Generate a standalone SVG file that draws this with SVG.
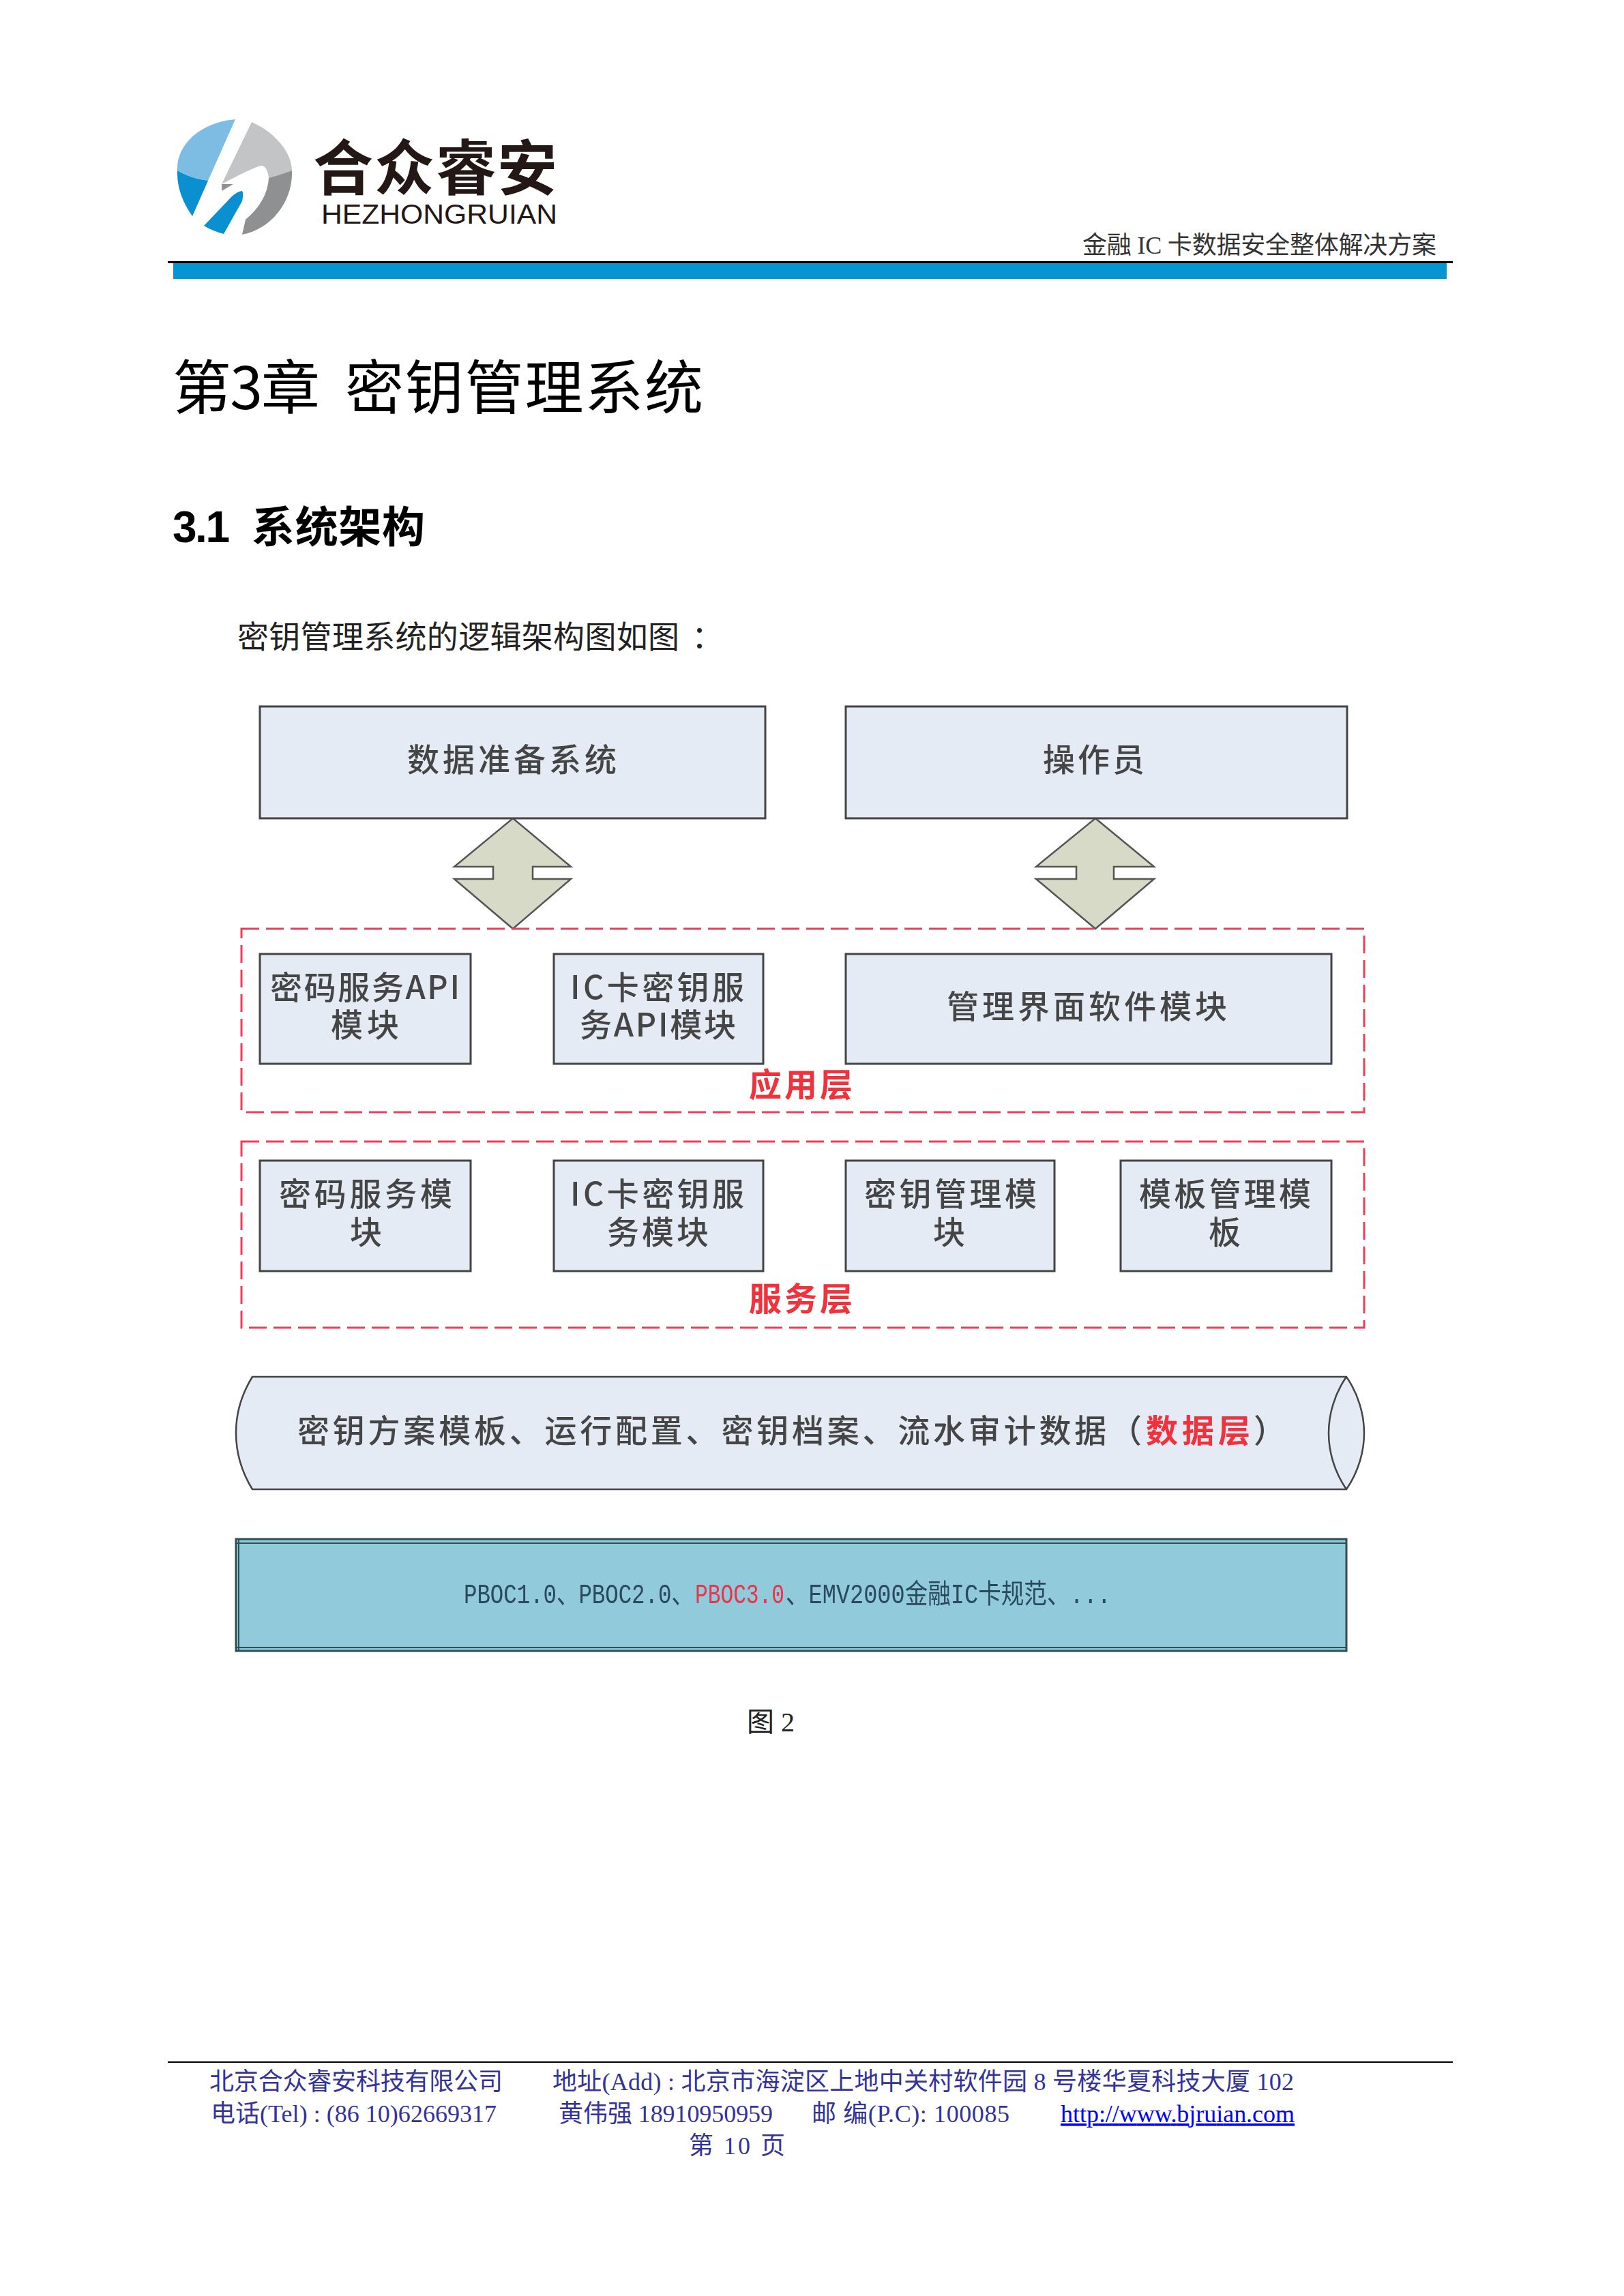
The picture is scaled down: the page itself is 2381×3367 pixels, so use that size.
<svg xmlns="http://www.w3.org/2000/svg" width="2381" height="3367" viewBox="0 0 2381 3367">
<style>
text{font-family:"Liberation Serif","Noto Sans CJK SC",serif}
.cjk{font-family:"Noto Sans CJK SC",sans-serif}
.box{fill:#e5ebf5;stroke:#444;stroke-width:3}
.zone{fill:none;stroke:#e8405a;stroke-width:3;stroke-dasharray:26 10}
.arrow{fill:#d6dac6;stroke:#555;stroke-width:2.5}
.lbl{font-family:"Noto Sans CJK SC",sans-serif;font-size:47px;font-weight:500;fill:#454545;filter:url(#soft)}
.red{font-family:"Noto Sans CJK SC",sans-serif;font-size:48px;font-weight:700;fill:#f0323c;filter:url(#soft)}
.mono{font-family:"Liberation Mono","Noto Sans CJK SC",monospace;font-size:40px;fill:#2c4a5c;filter:url(#soft)}
.foot{font-size:36px;fill:#333399}
</style>
<defs>
<filter id="soft" x="-5%" y="-20%" width="110%" height="140%"><feGaussianBlur stdDeviation="0.7"/></filter>
</defs>
<rect width="2381" height="3367" fill="#fff"/>

<g id="logo">
<path d="M345,175 L305,265 Q280,262 260,250 C258,215 290,180 345,175Z" fill="#7dbde4"/>
<path d="M260,250 Q280,262 305,265 L282,317 C268,297 259,275 260,250Z" fill="#0a8fd0"/>
<path d="M354,280 Q358,280 355,295 L328,343 Q312,339 299,331 L340,288 Q348,281 354,280Z" fill="#0a8fd0"/>
<path d="M369,179 C405,195 428,225 428,250 Q412,256 394,261 Q392,243 383,243 Q372,245 325,270Z" fill="#c3c4c6"/>
<path d="M325,270 H342 L325,280Z" fill="#8f9091"/>
<path d="M428,250 C430,295 398,336 355,344 L360,322 Q392,295 394,261 Q412,256 428,250Z" fill="#8f9091"/>
<text fill="#231815"><tspan x="459" y="278" font-size="88" font-weight="700" class="cjk" textLength="358" lengthAdjust="spacing">合众睿安</tspan><tspan x="471" y="328" font-size="40" style="font-family:'Liberation Sans',sans-serif" textLength="346" lengthAdjust="spacingAndGlyphs">HEZHONGRUIAN</tspan></text>
</g>

<g id="header">
<text x="1587" y="372" font-size="36" fill="#333" textLength="519">金融 IC 卡数据安全整体解决方案</text>
<rect x="246" y="383" width="1884" height="3" fill="#000"/>
<rect x="254" y="386" width="1867" height="23" fill="#0795d1"/>
</g>

<g id="headings">
<text x="253" y="600" font-size="86" fill="#000" class="cjk" textLength="216">第3章</text>
<text x="506" y="600" font-size="86" fill="#000" class="cjk" textLength="525">密钥管理系统</text>
<text x="253" y="795" font-size="64" font-weight="700" fill="#000" style="font-family:'Liberation Sans',sans-serif" textLength="84">3.1</text>
<text x="369" y="795" font-size="63" font-weight="700" fill="#000" class="cjk" textLength="254">系统架构</text>
<text font-size="46" fill="#222" class="cjk"><tspan x="348" y="950" textLength="648">密钥管理系统的逻辑架构图如图</tspan><tspan x="1014" y="950">：</tspan></text>
</g>

<g id="connectors">
<path class="arrow" d="M752,1200 L837,1271 H781 V1289 H837 L752,1362 L666,1289 H723 V1271 H666 Z"/>
<path class="arrow" d="M1606,1200 L1692,1271 H1633 V1289 H1692 L1606,1362 L1519,1289 H1578 V1271 H1519 Z"/>
</g>

<g id="zone-app">
<rect class="zone" x="354" y="1362" width="1646" height="269"/>
<text class="red" x="1098" y="1608" textLength="152">应用层</text>
</g>
<g id="zone-service">
<rect class="zone" x="354" y="1674" width="1646" height="273"/>
<text class="red" x="1098" y="1922" textLength="152">服务层</text>
</g>

<g id="node-data-prep">
<rect class="box" x="381" y="1036" width="741" height="164"/>
<text class="lbl" x="597" y="1131" textLength="307">数据准备系统</text>
</g>
<g id="node-operator">
<rect class="box" x="1240" y="1036" width="735" height="164"/>
<text class="lbl" x="1529" y="1131" textLength="149">操作员</text>
</g>

<g id="node-crypto-api">
<rect class="box" x="381" y="1399" width="309" height="161"/>
<text class="lbl"><tspan x="396" y="1465" textLength="278">密码服务API</tspan><tspan x="485" y="1520" textLength="100">模块</tspan></text>
</g>
<g id="node-ic-api">
<rect class="box" x="812" y="1399" width="307" height="161"/>
<text class="lbl"><tspan x="836" y="1465" textLength="255">IC卡密钥服</tspan><tspan x="850" y="1520" textLength="229">务API模块</tspan></text>
</g>
<g id="node-ui">
<rect class="box" x="1240" y="1399" width="712" height="161"/>
<text class="lbl" x="1388" y="1493" textLength="411">管理界面软件模块</text>
</g>

<g id="node-crypto">
<rect class="box" x="381" y="1702" width="309" height="162"/>
<text class="lbl"><tspan x="409" y="1768" textLength="254">密码服务模</tspan><tspan x="513" y="1824" textLength="47">块</tspan></text>
</g>
<g id="node-ic">
<rect class="box" x="812" y="1702" width="307" height="162"/>
<text class="lbl"><tspan x="836" y="1768" textLength="255">IC卡密钥服</tspan><tspan x="890" y="1824" textLength="149">务模块</tspan></text>
</g>
<g id="node-key">
<rect class="box" x="1240" y="1702" width="306" height="162"/>
<text class="lbl"><tspan x="1267" y="1768" textLength="253">密钥管理模</tspan><tspan x="1368" y="1824" textLength="47">块</tspan></text>
</g>
<g id="node-template">
<rect class="box" x="1643" y="1702" width="309" height="162"/>
<text class="lbl"><tspan x="1670" y="1768" textLength="252">模板管理模</tspan><tspan x="1772" y="1824" textLength="46">板</tspan></text>
</g>

<g id="node-data-layer">
<path class="box" d="M370,2019 H1974 C1992,2045 2000,2075 2000,2101.500 C2000,2128 1992,2158 1974,2184 H370 Q346,2145 346,2101 Q346,2058 370,2019Z" style="stroke-width:2.500"/>
<path d="M1974,2019 C1956,2045 1948,2075 1948,2101.500 C1948,2128 1956,2158 1974,2184" fill="none" stroke="#444" stroke-width="2.500"/>
<text class="lbl"><tspan x="436" y="2115" textLength="1238">密钥方案模板、运行配置、密钥档案、流水审计数据（</tspan><tspan x="1680" y="2115" textLength="153" style="fill:#f0323c;font-weight:700">数据层</tspan><tspan x="1838" y="2115">）</tspan></text>
</g>

<g id="node-standards">
<rect x="346" y="2257" width="1628" height="164" fill="#90cadb" stroke="#2f4f55" stroke-width="3"/>
<path d="M346,2263 H1974 M346,2416 H1974 M350,2257 V2421" fill="none" stroke="#2f4f55" stroke-width="2"/>
<text class="mono" transform="translate(680,2351) scale(.81,1)">PBOC1.0、PBOC2.0、</text>
<text class="mono" transform="translate(1019,2351) scale(.78,1)" style="fill:#e8344a">PBOC3.0</text>
<text class="mono" transform="translate(1152,2351) scale(.84,1)">、EMV2000金融IC卡规范、...</text>
</g>

<g id="caption">
<text x="1095" y="2539" font-size="40" fill="#222">图 2</text>
</g>

<g id="footer">
<rect x="246" y="3023" width="1884" height="2" fill="#000"/>
<text class="foot" x="307" y="3065" textLength="430">北京合众睿安科技有限公司</text>
<text class="foot" x="810" y="3065" textLength="1087">地址(Add) : 北京市海淀区上地中关村软件园 8 号楼华夏科技大厦 102</text>
<text class="foot" x="309" y="3112" textLength="419">电话(Tel) : (86 10)62669317</text>
<text class="foot" x="819" y="3112" textLength="314">黄伟强 18910950959</text>
<text class="foot" x="1190" y="3112" textLength="290">邮 编(P.C): 100085</text>
<text class="foot" x="1555" y="3112" textLength="343" text-decoration="underline" style="fill:#0000ff">http://www.bjruian.com</text>
<text class="foot" x="1010" y="3159" textLength="141">第 10 页</text>
</g>
</svg>
